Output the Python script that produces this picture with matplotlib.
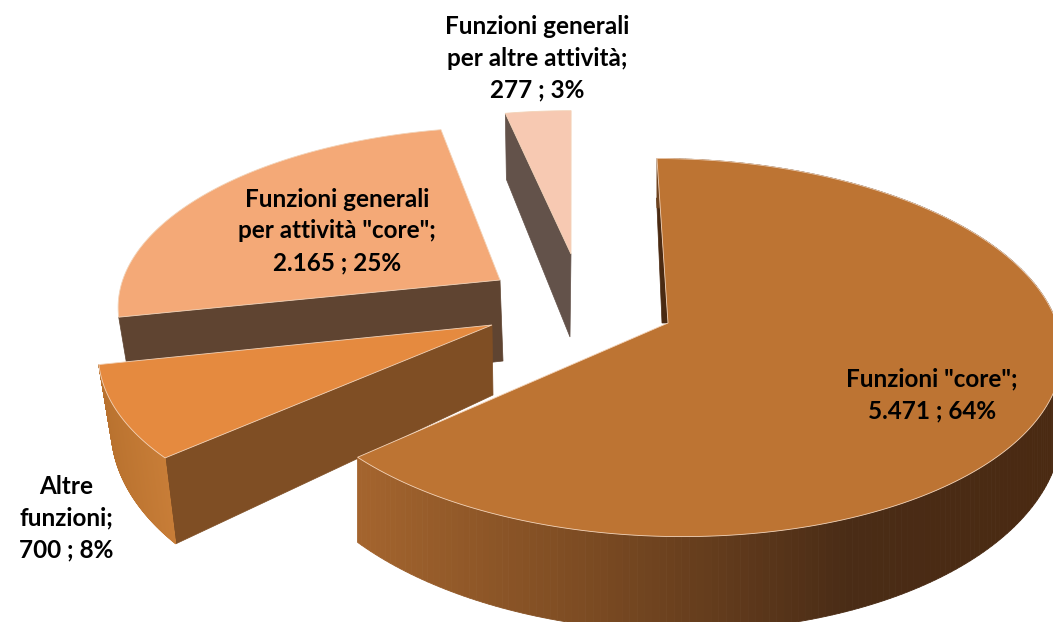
import numpy as np
import matplotlib.pyplot as plt
from matplotlib.patches import Polygon
from matplotlib.colors import to_rgb

names = ['Funzioni "core"', 'Altre\nfunzioni', 'Funzioni generali\nper attività "core"', 'Funzioni generali\nper altre attività']
values = [5471, 700, 2165, 277]
value_labels = ['5.471', '700', '2.165', '277']
percents = ['64%', '8%', '25%', '3%']

top_colors = ['#BD7433', '#E58A3F', '#F4A977', '#F7C9B2']
wall_colors = ['#4A2A12', '#7F4E24', '#5F4431', '#63524A']

# exploded slices: apex of the top face, apex of the bottom face, size factors
apex_top = [(668, 323), (492, 325), (500, 280), (571, 254)]
apex_bot = [(668, 392), (493, 395), (503, 361), (570, 337)]
size_x = [1.01, 1.01, 0.98, 0.96]
size_y = [1.01, 1.0, 0.94, 0.88]
bot_x = [1.0, 0.97, 0.97, 0.97]

label_pos = [(932, 395), (66, 518), (337, 231), (537, 58)]

RX, RY, PERSP, VX = 385, 184, 0.13, 572
BOT_Y = 1.12

side_x = [357, 600, 850, 1053]
side_c = ['#A5652E', '#7A4A22', '#4A2C16', '#4A2A12']
side_altre = ['#B9722F', '#C97E38']


def project(i, apex, theta, kx=1.0, ky=1.0):
    t = np.radians(theta)
    s = 1 / (1 + PERSP * np.cos(t))
    x = VX + (apex[0] - VX + kx * size_x[i] * RX * np.sin(t)) * s
    y = apex[1] - ky * size_y[i] * RY * np.cos(t) * s
    return np.column_stack([x, y])


def side_color(x, stops_x, stops_c):
    rgb = np.array([to_rgb(c) for c in stops_c])
    return [np.interp(x, stops_x, rgb[:, k]) for k in range(3)]


def draw_top(ax, i, a, b):
    th = np.linspace(a, b, 200)
    pts = np.vstack([[apex_top[i]], project(i, apex_top[i], th)])
    ax.add_patch(Polygon(pts, closed=True, facecolor=top_colors[i], edgecolor='#F3D3B8', lw=0.6))


def draw_wall(ax, i, theta):
    p_top = project(i, apex_top[i], [theta])[0]
    p_bot = project(i, apex_bot[i], [theta], bot_x[i], BOT_Y)[0]
    pts = [apex_top[i], p_top, p_bot, apex_bot[i]]
    ax.add_patch(Polygon(pts, closed=True, facecolor=wall_colors[i], edgecolor=wall_colors[i], lw=0.5))


def draw_side(ax, i, a, b, stops_x, stops_c):
    th = np.linspace(a, b, 241)
    up = project(i, apex_top[i], th)
    lo = project(i, apex_bot[i], th, bot_x[i], BOT_Y)
    for k in range(len(th) - 1):
        c = side_color(up[k, 0], stops_x, stops_c)
        ax.add_patch(Polygon([up[k], up[k + 1], lo[k + 1], lo[k]], closed=True, facecolor=c, edgecolor=c, lw=0.6))


fig = plt.figure(figsize=(10.53, 6.22), dpi=100)
ax = fig.add_axes([0, 0, 1, 1])
ax.set_xlim(0, 1053)
ax.set_ylim(622, 0)
ax.axis('off')

edges = np.concatenate([[0], np.cumsum(values)]) / sum(values) * 360
start = edges[:-1]
end = edges[1:]

# back to front
draw_wall(ax, 3, start[3])
draw_top(ax, 3, start[3], end[3])

draw_wall(ax, 2, start[2])
draw_top(ax, 2, start[2], end[2])

draw_wall(ax, 1, start[1])
draw_side(ax, 1, start[1], end[1], [100, 170], side_altre)
draw_top(ax, 1, start[1], end[1])

# thin dark strip on the back wall of the big slice
tip = project(0, apex_top[0], [0])[0]
a0 = np.array(apex_top[0], dtype=float)
strip = [a0, a0 + 0.76 * (tip - a0), a0 + 0.76 * (tip - a0) + (-3, 0), a0 + (-6, 0)]
ax.add_patch(Polygon(strip, closed=True, facecolor=wall_colors[0], edgecolor=wall_colors[0], lw=0.5))
draw_side(ax, 0, start[0], end[0], side_x, side_c)
draw_top(ax, 0, start[0], end[0])

for i in range(len(values)):
    txt = names[i] + ';\n' + value_labels[i] + ' ; ' + percents[i]
    ax.text(label_pos[i][0], label_pos[i][1], txt, ha='center', va='center',
            family=['Lato', 'DejaVu Sans'], fontweight='bold', fontsize=17.5, linespacing=1.47, color='black', zorder=10)

fig.savefig('out.png', dpi=100)
